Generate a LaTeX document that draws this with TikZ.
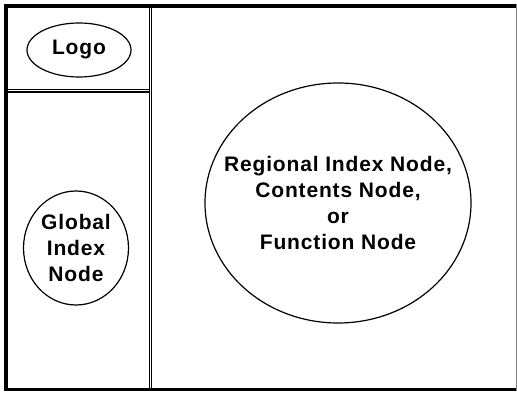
\documentclass[tikz,border=0pt]{standalone}
\usepackage{fontspec}
\setmainfont{Liberation Sans}
\newfontfamily\nodefont{Liberation Sans}[LetterSpace=4]
\usetikzlibrary{shapes.geometric}

\tikzset{
  bubble/.style={draw, ellipse, line width=1.2pt, inner sep=0pt},
  bubbletext/.style={inner sep=0pt, align=center,
    font=\nodefont\bfseries\fontsize{21}{26}\selectfont},
  frameline/.style={line width=4pt},
  divider/.style={double, double distance=1.6pt, line width=1.1pt}
}

\begin{document}
\begin{tikzpicture}[x=1pt, y=-1pt]
    % page size
    \useasboundingbox (0,0) rectangle (517,393);

    % outer frame
    \draw [frameline] (4,6) -- (517,6);
    \draw [frameline] (6,4) -- (6,391);
    \draw [line width=3pt] (4,389.5) -- (517,389.5);
    \draw [gray, line width=1pt] (516,4) -- (516,391);

    % the two dividers
    \draw [divider] (8,90.7) -- (150.5,90.7);
    \draw [divider] (150.5,8) -- (150.5,388);

    % the logo in the top left pane
    \node [bubble, minimum width=104pt, minimum height=54pt] (logo) at (79,50) {};
    \node [bubbletext] (logotext) at (logo) {Logo};

    % the global index in the left pane
    \node [bubble, minimum width=105pt, minimum height=114pt] (global) at (76,248) {};
    \node [bubbletext] (globaltext) at (global) {Global\\Index\\Node};

    % the main pane
    \node [bubble, minimum width=266pt, minimum height=240pt] (regional) at (338,203) {};
    \node [bubbletext] (regionaltext) at (regional)
        {Regional Index Node,\\Contents Node,\\or\\Function Node};

\end{tikzpicture}
\end{document}
